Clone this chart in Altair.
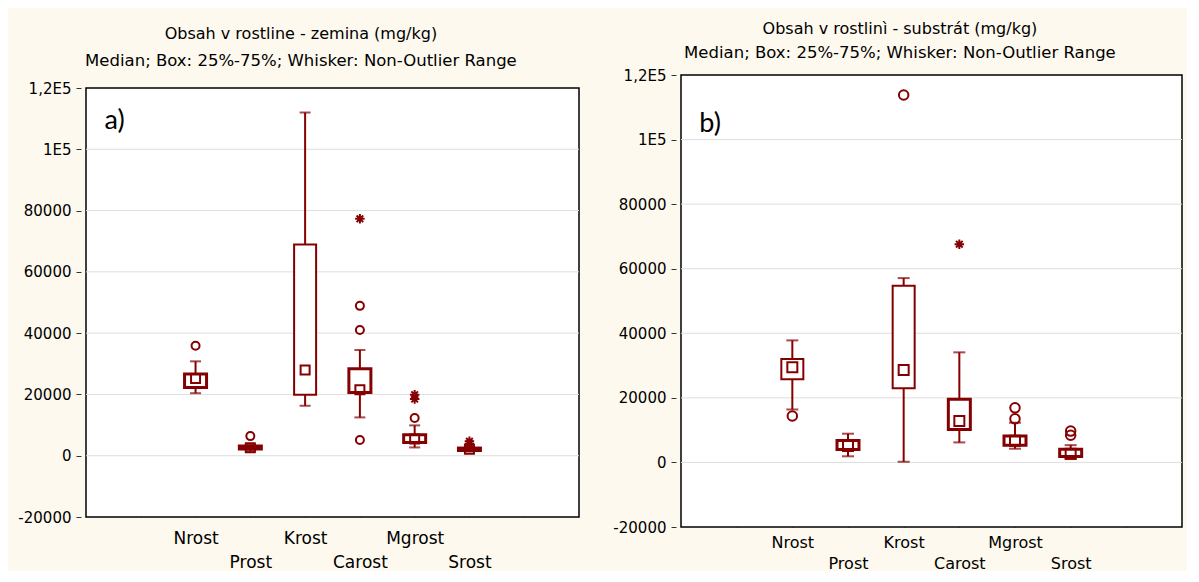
import altair as alt
import pandas as pd

# ---------------- data ----------------
cats = ["Nrost", "Prost", "Krost", "Carost", "Mgrost", "Srost"]
cat_pos = [2, 3, 4, 5, 6, 7]

# panel a) Obsah v rostline - zemina
a_wlo = [20400, 1500, 16300, 12500, 2700, 1400]
a_q1 = [22300, 2200, 19900, 20600, 4350, 1700]
a_med = [25200, 2600, 28000, 21500, 5450, 2100]
a_q3 = [26700, 3200, 68900, 28400, 6850, 2500]
a_whi = [30800, 3600, 112000, 34500, 9900, 2900]
a_out_cat = ["Nrost", "Prost", "Carost", "Carost", "Carost", "Mgrost"]
a_out_val = [35900, 6400, 48900, 41000, 5100, 12300]
a_ext_cat = ["Carost", "Mgrost", "Mgrost", "Srost", "Srost"]
a_ext_val = [77300, 19900, 18500, 4700, 3900]

# panel b) Obsah v rostlinì - substrát
b_wlo = [16400, 1900, 200, 6200, 4250, 1050]
b_q1 = [25800, 4000, 23000, 10200, 5300, 1850]
b_med = [29500, 5050, 28600, 12800, 6700, 2700]
b_q3 = [32000, 6800, 54700, 19600, 8150, 4050]
b_whi = [37800, 8900, 57100, 34100, 12300, 5350]
b_out_cat = ["Nrost", "Krost", "Mgrost", "Mgrost", "Srost", "Srost"]
b_out_val = [14400, 113800, 16900, 13500, 9700, 8400]
b_ext_cat = ["Carost"]
b_ext_val = [67600]

titles = ["Obsah v  rostline - zemina (mg/kg)", "Obsah v rostlinì - substrát (mg/kg)"]
subtitle = "Median; Box: 25%-75%; Whisker: Non-Outlier Range"
panel_labels = ["a)", "b)"]
panel_label_x = [0.34, 0.33]
panel_label_y = [109300, 104800]
y_ticks = [-20000, 0, 20000, 40000, 60000, 80000, 100000, 120000]
x_ticks = [1, 2, 3, 4, 5, 6, 7, 8]
x_domain = [0, 9]

# ---------------- style ----------------
RED = "#850000"
BG = "#FDF9EE"
FONT = "DejaVu Sans"
a_box_sw = [3, 3, 2, 3, 3, 3]
b_box_sw = [2, 3, 2, 3, 3, 3]

STAR = "M0,-1L0,1M-1,0L1,0M-0.7,-0.7L0.7,0.7M-0.7,0.7L0.7,-0.7"

pos_of = dict(zip(cats, cat_pos))

parts = []
for i, (c, p) in enumerate(zip(cats, cat_pos)):
    lab = f"'{c}'" if i % 2 == 0 else f"['', '{c}']"
    parts.append(f"datum.value == {p} ? {lab} : ")
x_label_expr = "".join(parts) + "''"

y_label_expr = ("datum.value == 120000 ? '1,2E5' : datum.value == 100000 ? '1E5' : "
                "'' + datum.value")


def panel(idx, wlo, q1, med, q3, whi, sw, out_cat, out_val, ext_cat, ext_val,
          width, frame_h, top_gap, title_offset, sub_pad, lab_pad, lab_lh, lab_fs,
          box_w, cap_w, med_size, circ_size, whisker_sw):
    box = pd.DataFrame({"pos": cat_pos, "wlo": wlo, "q1": q1, "med": med,
                        "q3": q3, "whi": whi, "sw": sw})
    outs = pd.DataFrame({"pos": [pos_of[c] for c in out_cat], "v": out_val})
    exts = pd.DataFrame({"pos": [pos_of[c] for c in ext_cat], "v": ext_val})
    lab = pd.DataFrame({"t": [panel_labels[idx]], "x": [panel_label_x[idx]],
                        "y": [panel_label_y[idx]]})
    frame = pd.DataFrame({"x0": [x_domain[0]], "x1": [x_domain[1]],
                          "y0": [y_ticks[0]], "y1": [y_ticks[-1]]})
    grid = pd.DataFrame({"x0": x_domain[0], "x1": x_domain[1], "g": y_ticks[1:-1]})

    y_lo, y_hi = y_ticks[0], y_ticks[-1]
    height = frame_h + top_gap
    y_top = y_lo + (y_hi - y_lo) * height / frame_h

    xs = alt.Scale(domain=x_domain, nice=False, zero=False)
    ys = alt.Scale(domain=[y_lo, y_top], nice=False, zero=False)

    yaxis = alt.Axis(values=y_ticks, labelExpr=y_label_expr, grid=False,
                     domain=False, ticks=True, tickSize=5, tickColor="#333333",
                     labelFont=FONT, labelFontSize=15, labelColor="black",
                     labelPadding=5, title=None)

    def Y(f):
        return alt.Y(f"{f}:Q", scale=ys, axis=yaxis)

    def X(f="pos", axis=None):
        return alt.X(f"{f}:Q", scale=xs, axis=axis)

    bottom_axis = alt.Axis(orient="bottom", values=x_ticks, labelExpr=x_label_expr,
                           domain=False, ticks=True, tickSize=5, offset=-5,
                           tickColor="#555555", labelFont=FONT, labelFontSize=lab_fs,
                           labelColor="black", labelPadding=lab_pad,
                           labelLineHeight=lab_lh, labelBaseline="top",
                           labelOverlap=False, labelFlush=False, grid=False,
                           title=None)
    top_axis = alt.Axis(orient="top", values=x_ticks, labels=False, domain=False,
                        ticks=True, tickSize=5, offset=-(5 + top_gap),
                        tickColor="#555555", grid=False, title=None)

    bg = alt.Chart(frame).mark_rect(fill="white", stroke="black",
                                    strokeWidth=1.5).encode(
        x=X("x0", bottom_axis), x2="x1:Q", y=Y("y0"), y2="y1:Q")
    gl = alt.Chart(grid).mark_rule(color="#dedede", strokeWidth=1).encode(
        x=X("x0", top_axis), x2="x1:Q", y=Y("g"))
    lo = alt.Chart(box).mark_rule(color=RED, strokeWidth=whisker_sw).encode(
        x=X(), y=Y("wlo"), y2="q1:Q")
    hi = alt.Chart(box).mark_rule(color=RED, strokeWidth=whisker_sw).encode(
        x=X(), y=Y("q3"), y2="whi:Q")
    cap_lo = alt.Chart(box).mark_tick(color=RED, orient="horizontal", size=cap_w,
                                      thickness=whisker_sw).encode(x=X(), y=Y("wlo"))
    cap_hi = alt.Chart(box).mark_tick(color=RED, orient="horizontal", size=cap_w,
                                      thickness=whisker_sw).encode(x=X(), y=Y("whi"))
    rect = alt.Chart(box).mark_bar(fill="white", stroke=RED, size=box_w).encode(
        x=X(), y=Y("q1"), y2="q3:Q",
        strokeWidth=alt.StrokeWidth("sw:Q", scale=None, legend=None))
    medp = alt.Chart(box).mark_point(shape="square", size=med_size, filled=False,
                                     color=RED, strokeWidth=2, opacity=1).encode(
        x=X(), y=Y("med"))
    circ = alt.Chart(outs).mark_point(shape="circle", size=circ_size, filled=False,
                                      color=RED, strokeWidth=2, opacity=1).encode(
        x=X(), y=Y("v"))
    star = alt.Chart(exts).mark_point(shape=STAR, size=90, filled=False,
                                      color=RED, strokeWidth=2, opacity=1).encode(
        x=X(), y=Y("v"))
    txt = alt.Chart(lab).mark_text(font="Lato", fontSize=27, align="left",
                                   baseline="middle", color="black").encode(
        x=X("x"), y=Y("y"), text="t:N")

    return alt.layer(bg, gl, lo, hi, cap_lo, cap_hi, rect, medp, circ, star,
                     txt).resolve_axis(x="independent").properties(
        width=width, height=height,
        title=alt.TitleParams(text=titles[idx], subtitle=subtitle, frame="bounds",
                              anchor="middle", font=FONT, fontSize=16,
                              fontWeight="normal", color="black",
                              subtitleFont=FONT, subtitleFontSize=16.5,
                              subtitleColor="black", subtitlePadding=sub_pad,
                              offset=title_offset))


left = panel(0, a_wlo, a_q1, a_med, a_q3, a_whi, a_box_sw, a_out_cat, a_out_val,
             a_ext_cat, a_ext_val, 503, 429, 13, 6, 11, 13, 24, 17,
             22, 11, 81, 64, 2)
right = panel(1, b_wlo, b_q1, b_med, b_q3, b_whi, b_box_sw, b_out_cat, b_out_val,
              b_ext_cat, b_ext_val, 511, 452, 0, 7, 8, 7, 21, 16,
              22, 12, 100, 90, 2)

chart = alt.concat(left, right, columns=2, spacing=28).configure(
    background=BG, padding={"left": 9, "top": 12, "right": 0, "bottom": 0}
).configure_view(stroke=None, fill=None)

chart.save("out.html", embed_options={"renderer": "svg", "actions": False})
